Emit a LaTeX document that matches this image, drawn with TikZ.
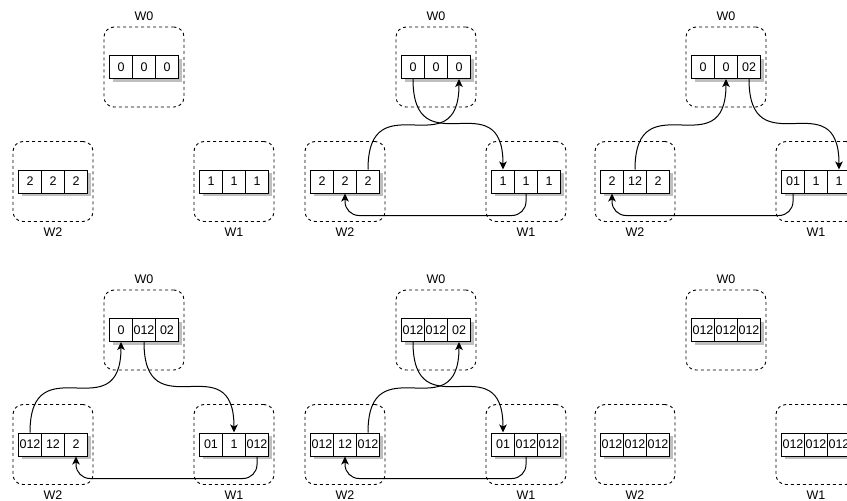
\documentclass[tikz,border=0pt]{standalone}
\usepackage{fontspec}
\setmainfont{Liberation Sans}
\usetikzlibrary{arrows.meta,positioning,shadows}

% one worker: dashed box, name and three cells
\newcommand{\worker}[7]{%
\node[wbox] (#1) at (#2) {};
\node[wlabel,#4=6pt of #1] (#1-l) {#3};
\node[cell,xshift=-23pt] (#1-0) at (#1) {#5};
\node[cell] (#1-1) at (#1) {#6};
\node[cell,xshift=23pt] (#1-2) at (#1) {#7};
}

\begin{document}
\begin{tikzpicture}[x=1pt,y=-1pt,
  font=\fontsize{12.5}{14}\selectfont,
  wbox/.style={draw,line width=0.9pt,dash pattern=on 3pt off 3pt,rounded corners=10pt,minimum width=80pt,minimum height=80pt,inner sep=0pt},
  wlabel/.style={inner sep=0pt},
  cell/.style={draw,line width=1pt,fill=white,minimum width=23pt,minimum height=23pt,inner sep=0pt,
    drop shadow={shadow xshift=3pt,shadow yshift=-3pt,fill=black!25,opacity=1}},
  flow/.style={draw,line width=1pt,-{Stealth[length=8pt,width=7.5pt,inset=2pt]}},
  botflow/.style={flow,rounded corners=14pt}]
\useasboundingbox (0,0) rectangle (847,501);

% step 1
\worker{p1w0}{144,67}{W0}{above}{0}{0}{0}
\worker{p1w2}{53,181.5}{W2}{below}{2}{2}{2}
\worker{p1w1}{234,181.5}{W1}{below}{1}{1}{1}

% step 2
\begin{scope}[shift={(292,0)}]
\worker{p2w0}{144,67}{W0}{above}{0}{0}{0}
\worker{p2w2}{53,181.5}{W2}{below}{2}{2}{2}
\worker{p2w1}{234,181.5}{W1}{below}{1}{1}{1}
\end{scope}
\draw[flow] (p2w0-0.south) .. controls +(0,90) and +(0,-90) .. (p2w1-0.north);
\draw[flow] (p2w2-2.north) .. controls +(0,-90) and +(0,90) .. (p2w0-2.south);
\draw[botflow] (p2w1-1.south) -- ++(0,22) -| (p2w2-1.south);

% step 3
\begin{scope}[shift={(582,0)}]
\worker{p3w0}{144,67}{W0}{above}{0}{0}{02}
\worker{p3w2}{53,181.5}{W2}{below}{2}{12}{2}
\worker{p3w1}{234,181.5}{W1}{below}{01}{1}{1}
\end{scope}
\draw[flow] (p3w0-2.south) .. controls +(0,90) and +(0,-90) .. (p3w1-2.north);
\draw[flow] (p3w2-1.north) .. controls +(0,-90) and +(0,90) .. (p3w0-1.south);
\draw[botflow] (p3w1-0.south) -- ++(0,22) -| (p3w2-0.south);

% step 4
\begin{scope}[shift={(0,263)}]
\worker{p4w0}{144,67}{W0}{above}{0}{012}{02}
\worker{p4w2}{53,181.5}{W2}{below}{012}{12}{2}
\worker{p4w1}{234,181.5}{W1}{below}{01}{1}{012}
\end{scope}
\draw[flow] (p4w0-1.south) .. controls +(0,90) and +(0,-90) .. (p4w1-1.north);
\draw[flow] (p4w2-0.north) .. controls +(0,-90) and +(0,90) .. (p4w0-0.south);
\draw[botflow] (p4w1-2.south) -- ++(0,22) -| (p4w2-2.south);

% step 5
\begin{scope}[shift={(292,263)}]
\worker{p5w0}{144,67}{W0}{above}{012}{012}{02}
\worker{p5w2}{53,181.5}{W2}{below}{012}{12}{012}
\worker{p5w1}{234,181.5}{W1}{below}{01}{012}{012}
\end{scope}
\draw[flow] (p5w0-0.south) .. controls +(0,90) and +(0,-90) .. (p5w1-0.north);
\draw[flow] (p5w2-2.north) .. controls +(0,-90) and +(0,90) .. (p5w0-2.south);
\draw[botflow] (p5w1-1.south) -- ++(0,22) -| (p5w2-1.south);

% step 6
\begin{scope}[shift={(582,263)}]
\worker{p6w0}{144,67}{W0}{above}{012}{012}{012}
\worker{p6w2}{53,181.5}{W2}{below}{012}{012}{012}
\worker{p6w1}{234,181.5}{W1}{below}{012}{012}{012}
\end{scope}
\end{tikzpicture}
\end{document}
